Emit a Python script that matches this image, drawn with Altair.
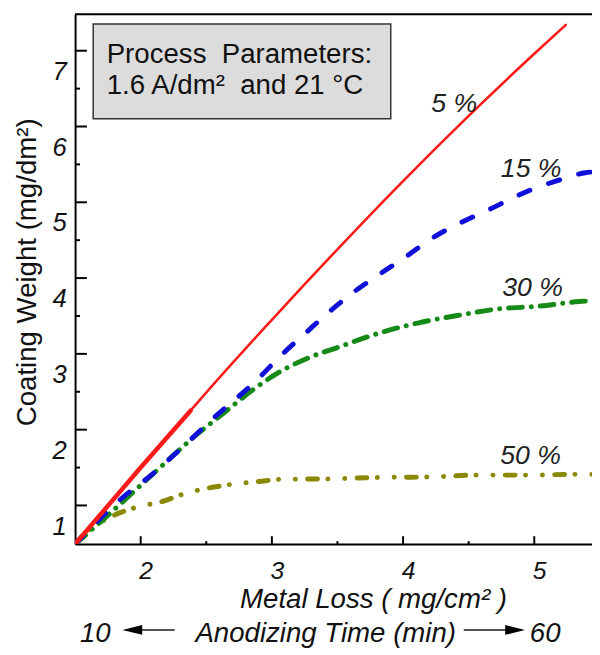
import altair as alt
import pandas as pd

# ---- data ----
red_x = [1.5, 1.95, 2.0, 2.38, 2.5, 3.0, 3.5, 4.0, 4.5, 5.0, 5.24]
red_y = [0.49, 1.40, 1.50, 2.25, 2.49, 3.45, 4.38, 5.28, 6.14, 6.96, 7.34]
red_thick_x = [1.5, 2.0, 2.38]
red_thick_y = [0.49, 1.50, 2.25]

blue_x = [1.5, 1.856, 2.08, 2.332, 2.532, 2.90, 3.07, 3.26, 3.447, 3.635, 3.82, 4.02,
          4.224, 4.45, 4.675, 4.914, 5.164, 5.39, 5.44]
blue_y = [0.49, 1.095, 1.40, 1.79, 2.115, 2.68, 2.98, 3.28, 3.57, 3.83, 4.05, 4.28,
          4.53, 4.74, 4.92, 5.12, 5.28, 5.39, 5.40]

green_x = [1.5, 1.705, 2.056, 2.404, 2.633, 2.859, 3.0, 3.11, 3.297, 3.51, 3.81, 4.12,
           4.46, 4.71, 5.04, 5.34, 5.44]
green_y = [0.49, 0.80, 1.355, 1.90, 2.22, 2.53, 2.70, 2.81, 2.96, 3.09, 3.27, 3.41,
           3.52, 3.59, 3.63, 3.69, 3.70]

olive_x = [1.5, 1.58, 1.68, 1.756, 1.956, 2.18, 2.307, 2.658, 2.92, 3.07, 3.435, 3.81,
           4.186, 4.56, 4.94, 5.314, 5.44]
olive_y = [0.49, 0.64, 0.76, 0.836, 0.97, 1.06, 1.14, 1.27, 1.32, 1.345, 1.35, 1.37,
           1.375, 1.40, 1.40, 1.41, 1.41]

series_labels = ["5 %", "15 %", "30 %", "50 %"]
label_x = [4.215, 4.745, 4.756, 4.741]
label_y = [6.196, 5.336, 3.758, 1.542]

x_major = [2, 3, 4, 5]
x_minor = [2.5, 3.5, 4.5]
y_major = [1, 2, 3, 4, 5, 6, 7]
y_minor = [1.5, 2.5, 3.5, 4.5, 5.5, 6.5]

box_x = [1.638, 3.906]
box_y = [7.353, 6.101]
box_lines = ["Process\u00a0 Parameters:", "1.6 A/dm\u00b2\u00a0 and 21 \u00b0C"]
box_text_x = [1.741, 1.741]
box_text_y = [6.835, 6.431]

FONT = "Liberation Sans"
W, H = 524, 537

xs = alt.Scale(domain=[1.5, 5.44], nice=False, zero=False)
ys = alt.Scale(domain=[0.49, 7.48], nice=False, zero=False)

x_axis = alt.Axis(values=x_major, format="d", grid=False, ticks=False,
                  domainColor="black", domainWidth=2,
                  labelFont=FONT, labelFontSize=25, labelFontStyle="italic",
                  labelColor="#111", labelPadding=15, labelOffset=5,
                  title="Metal Loss ( mg/cm\u00b2 )", titleFont=FONT, titleFontSize=28,
                  titleFontStyle="italic", titleFontWeight="normal", titleColor="#111",
                  titleX=302, titleY=64, titleAlign="center", titleBaseline="alphabetic")
y_axis = alt.Axis(values=y_major, format="d", grid=False, ticks=False,
                  domainColor="black", domainWidth=2,
                  labelFont=FONT, labelFontSize=26, labelFontStyle="italic",
                  labelColor="#111", labelPadding=9, labelOffset=21,
                  title="Coating Weight (mg/dm\u00b2)", titleFont=FONT, titleFontSize=28,
                  titleFontWeight="normal", titleColor="#111", titleAngle=270,
                  titleX=-40, titleY=261, titleAlign="center", titleBaseline="alphabetic")


def X(field):
    return alt.X(field, type="quantitative", scale=xs, axis=x_axis)


def Y(field):
    return alt.Y(field, type="quantitative", scale=ys, axis=y_axis)


def line_layer(xv, yv, color, width, dash=None):
    df = pd.DataFrame({"x": xv, "y": yv, "o": list(range(len(xv)))})
    kw = dict(color=color, strokeWidth=width, clip=True, strokeCap="round",
              strokeJoin="round", interpolate="monotone")
    if dash:
        kw["strokeDash"] = dash
    return alt.Chart(df).mark_line(**kw).encode(x=X("x"), y=Y("y"), order="o:Q")


box = alt.Chart(pd.DataFrame({"x1": [box_x[0]], "x2": [box_x[1]],
                              "y1": [box_y[0]], "y2": [box_y[1]]})).mark_rect(
    fill="#dcdcdc", stroke="#333333", strokeWidth=1.5).encode(
    x=X("x1"), x2="x2", y=Y("y1"), y2="y2")

box_txt = alt.Chart(pd.DataFrame({"x": box_text_x, "y": box_text_y, "t": box_lines})).mark_text(
    align="left", baseline="alphabetic", font=FONT, fontSize=28, color="#111").encode(
    x=X("x"), y=Y("y"), text="t:N")

olive = line_layer(olive_x, olive_y, "#8a8a08", 5, [10, 10.5, 0.1, 17, 0.1, 12.4])
green = line_layer(green_x, green_y, "#168a16", 5, [14, 9, 0.1, 9])
blue = line_layer(blue_x, blue_y, "#1010d8", 5, [12, 20])
red = line_layer(red_x, red_y, "#ff1a1a", 2.6)
red_thick = line_layer(red_thick_x, red_thick_y, "#ff1a1a", 4.5)

labels = alt.Chart(pd.DataFrame({"x": label_x, "y": label_y, "t": series_labels})).mark_text(
    align="left", baseline="alphabetic", font=FONT, fontSize=27, fontStyle="italic",
    color="#222").encode(x=X("x"), y=Y("y"), text="t:N")

xt_major = alt.Chart(pd.DataFrame({"v": x_major})).mark_rule(color="black", strokeWidth=2).encode(
    x=X("v"), y=alt.value(H), y2=alt.value(H - 8))
xt_minor = alt.Chart(pd.DataFrame({"v": x_minor})).mark_rule(color="black", strokeWidth=2).encode(
    x=X("v"), y=alt.value(H), y2=alt.value(H - 3))
yt_major = alt.Chart(pd.DataFrame({"v": y_major})).mark_rule(color="black", strokeWidth=2).encode(
    y=Y("v"), x=alt.value(0), x2=alt.value(12))
yt_minor = alt.Chart(pd.DataFrame({"v": y_minor})).mark_rule(color="black", strokeWidth=2).encode(
    y=Y("v"), x=alt.value(0), x2=alt.value(5))

top_border = alt.Chart(pd.DataFrame({"a": [0]})).mark_rule(color="black", strokeWidth=2).encode(
    x=alt.value(0), x2=alt.value(W), y=alt.value(0))

# bottom annotation line: 10 <-- Anodizing Time (min) --> 60
bottom_words = ["10", "Anodizing Time (min)", "60"]
bottom_px = [5, 122, 461]
bottom_txt = [alt.Chart(pd.DataFrame({"t": [w]})).mark_text(
    align="left", baseline="alphabetic", font=FONT, fontSize=28, fontStyle="italic",
    color="#111").encode(x=alt.value(px), y=alt.value(636), text="t:N")
    for w, px in zip(bottom_words, bottom_px)]

arrow_lines = [
    alt.Chart(pd.DataFrame({"a": [0]})).mark_rule(color="#555", strokeWidth=2).encode(
        x=alt.value(58), x2=alt.value(101), y=alt.value(624)),
    alt.Chart(pd.DataFrame({"a": [0]})).mark_rule(color="#555", strokeWidth=2).encode(
        x=alt.value(394), x2=alt.value(446), y=alt.value(624)),
]
arrow_heads = [
    alt.Chart(pd.DataFrame({"a": [0]})).mark_point(
        shape="M -1 0 L 1 -0.5 L 1 0.5 Z", filled=True, color="black", size=400, opacity=1).encode(
        x=alt.value(58), y=alt.value(624)),
    alt.Chart(pd.DataFrame({"a": [0]})).mark_point(
        shape="M 1 0 L -1 -0.5 L -1 0.5 Z", filled=True, color="black", size=400, opacity=1).encode(
        x=alt.value(446), y=alt.value(624)),
]

chart = alt.layer(
    box, box_txt, olive, green, blue, red_thick, red, labels,
    xt_major, xt_minor, yt_major, yt_minor, top_border,
    *bottom_txt, *arrow_lines, *arrow_heads
).properties(
    width=W, height=H,
    padding={"left": 68, "top": 2, "right": 0, "bottom": 108},
    autosize=alt.AutoSizeParams(type="none"),
    background="white",
).configure_view(stroke=None)

chart.save("out.html", embed_options={"renderer": "svg", "actions": False})
